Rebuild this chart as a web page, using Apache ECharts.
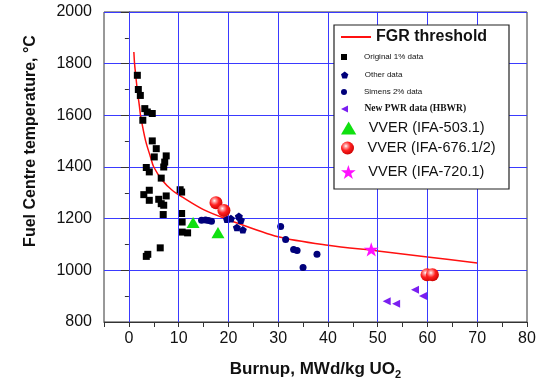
<!DOCTYPE html>
<html><head><meta charset="utf-8">
<script src="https://cdn.jsdelivr.net/npm/echarts@6/dist/echarts.min.js"></script>
<style>html,body{margin:0;padding:0;background:#fff}#c{width:542px;height:385px}</style>
</head><body><div id="c"></div>
<script>
// FGR threshold curve
const curveX = [1.0, 1.14, 1.34, 1.7, 2.14, 2.34, 3.34, 4.34, 5, 6.7, 8.7, 10.7, 15, 20, 30, 40, 50, 60, 70];
const curveY = [1845, 1800, 1761, 1697, 1632, 1600, 1503, 1439, 1400, 1349, 1310, 1284, 1235, 1196, 1130, 1097, 1075, 1052, 1028];
// Original 1% data (black squares)
const original1 = [[1.7,1755],[1.9,1700],[2.3,1677],[3.2,1626],[3.7,1613],[4.7,1607],[2.8,1581],[4.7,1501],[5.5,1471],[5.1,1439],[7.5,1443],[7.2,1419],[7.0,1400],[3.5,1398],[4.1,1381],[6.5,1357],[10.3,1312],[10.6,1303],[4.1,1310],[3.0,1293],[4.1,1271],[7.5,1288],[6.0,1275],[6.5,1258],[7.0,1252],[6.9,1216],[10.6,1220],[10.7,1187],[10.7,1148],[11.8,1145],[6.3,1087],[3.5,1054],[3.8,1062]];
// Other data (pentagons)
const otherData = [[19.7,1198],[20.5,1200],[22.1,1209],[22.5,1194],[21.7,1166],[22.9,1157]];
// Simens 2% data (circles)
const simens2 = [[14.6,1194],[15.4,1195],[16.0,1193],[16.6,1190],[30.5,1170],[31.5,1119],[33.1,1081],[33.8,1077],[37.8,1062],[35.0,1011]];
// New PWR data (HBWR)
const pwrHBWR = [[51.8,880],[53.7,871],[57.5,925],[59.1,901]];
// VVER series
const vver503 = [[12.9,1185],[17.9,1146]];
const vver676 = [[17.5,1262],[19.1,1232],[59.9,983],[61.0,983]];
const vver720 = [[48.7,1081]];
// axis ticks / grid
const xGridValues = [0, 10, 20, 30, 40, 50, 60, 70];
const yLabelValues = [800, 1000, 1200, 1400, 1600, 1800, 2000];

const SQ = 'path://M0,0 L1,0 L1,1 L0,1 Z';
const PENT = 'path://M0,-1 L0.951,-0.309 L0.588,0.809 L-0.588,0.809 L-0.951,-0.309 Z';
const LTRI = 'path://M0,0.5 L1,0 L1,1 Z';
const UTRI = 'path://M0.5,0 L1,0.85 L0,0.85 Z';
const STAR = 'path://M0,-1 L0.2245,-0.309 L0.951,-0.309 L0.363,0.118 L0.588,0.809 L0,0.382 L-0.588,0.809 L-0.363,0.118 L-0.951,-0.309 L-0.2245,-0.309 Z';
const sphere = {type:'radial', x:0.38, y:0.35, r:0.7, colorStops:[
  {offset:0, color:'#ffffff'},{offset:0.18, color:'#ffa0a0'},{offset:0.5, color:'#ff2020'},{offset:1, color:'#c80000'}]};

const SANS = 'Liberation Sans, Arial, sans-serif';

const legendDefs = [
  {name:'FGR threshold', cy:37, h:2, icon:'rect', ts:{fontSize:16, fontWeight:'bold', fontFamily:SANS}},
  {name:'Original 1% data', cy:57, h:6, icon:SQ, ts:{fontSize:8, fontFamily:SANS}},
  {name:'Other data', cy:75, h:7, icon:PENT, ts:{fontSize:8, fontFamily:SANS}},
  {name:'Simens 2% data', cy:92, h:6, icon:'circle', ts:{fontSize:8, fontFamily:SANS}},
  {name:'New PWR data (HBWR)', cy:109, h:7, icon:LTRI, ts:{fontSize:9.5, fontWeight:'bold', fontFamily:'Liberation Serif, Times New Roman, serif'}},
  {name:'VVER (IFA-503.1)', cy:128, h:13, icon:UTRI, ts:{fontSize:14.5, fontFamily:SANS}},
  {name:'VVER (IFA-676.1/2)', cy:148, h:13, icon:'circle', ts:{fontSize:14.5, fontFamily:SANS}},
  {name:'VVER (IFA-720.1)', cy:172, h:14, icon:STAR, ts:{fontSize:14.5, fontFamily:SANS}}
];

const legends = legendDefs.map(d => ({
  show:true, orient:'horizontal', left:341, top:d.cy-10, padding:0, z:20,
  itemWidth:30, itemHeight:d.h, selectedMode:false,
  data:[{name:d.name, icon:d.icon}],
  textStyle: Object.assign({color:'#111', lineHeight:20}, d.ts)
}));

const chart = echarts.init(document.getElementById('c'), null, {renderer:'canvas'});
chart.setOption({
  animation:false,
  backgroundColor:'#fff',
  grid:{left:104, right:15, top:12, bottom:63, show:true, borderColor:'#333', borderWidth:1, backgroundColor:'transparent'},
  legend: legends,
  xAxis:{
    type:'value', min:-5, max:80, interval:5,
    name:'Burnup, MWd/kg UO{sub|2}', nameLocation:'middle', nameGap:36,
    nameTextStyle:{fontSize:17, fontWeight:'bold', fontFamily:SANS, color:'#111',
      rich:{sub:{fontSize:11, fontWeight:'bold', fontFamily:SANS, color:'#111', verticalAlign:'top', padding:[11,0,0,0]}}},
    axisLine:{show:true, lineStyle:{color:'#333', width:1}},
    axisTick:{show:true, inside:false, length:5, lineStyle:{color:'#333'}},
    axisLabel:{fontSize:16, fontFamily:SANS, color:'#111', margin:9,
      formatter: v => (v >= 0 && v % 10 === 0) ? String(v) : ''},
    splitLine:{show:false}
  },
  yAxis:{
    type:'value', min:800, max:2000, interval:200,
    axisLine:{show:true, lineStyle:{color:'#333', width:1}},
    axisTick:{show:true, inside:false, length:8, lineStyle:{color:'#333'}},
    minorTick:{show:true, splitNumber:2, length:4, lineStyle:{color:'#333'}},
    axisLabel:{fontSize:16, fontFamily:SANS, color:'#111', margin:12,
      formatter: v => yLabelValues.indexOf(v) >= 0 ? String(v) : ''},
    splitLine:{show:true, lineStyle:{color:'#3a3aff', width:1}}
  },
  graphic:[
    {type:'rect', z:10, shape:{x:334, y:25, width:175, height:164},
      style:{fill:'#fff', stroke:'#222', lineWidth:1.2}},
    {type:'text', z:10, x:31, y:141, rotation:Math.PI/2,
      style:{text:'Fuel Centre temperature, °C', fontSize:16, fontWeight:'bold', fontFamily:SANS,
        fill:'#111', textAlign:'center', textVerticalAlign:'middle'}}
  ],
  series:[
    {type:'scatter', name:'_grid', data:[], z:1, silent:true,
      markLine:{silent:true, symbol:['none','none'], label:{show:false}, animation:false,
        lineStyle:{color:'#3a3aff', width:1, type:'solid'},
        data: xGridValues.map(v => ({xAxis:v}))}},
    {type:'line', name:'FGR threshold', data: curveX.map((x,i)=>[x, curveY[i]]), smooth:0.3,
      symbol:'none', showSymbol:false, z:3,
      lineStyle:{color:'#ff1010', width:1.5}, itemStyle:{color:'#ff1010'}},
    {type:'scatter', name:'Original 1% data', data:original1, symbol:SQ, symbolSize:7, symbolKeepAspect:true,
      itemStyle:{color:'#000', opacity:1}, z:4},
    {type:'scatter', name:'Other data', data:otherData, symbol:PENT, symbolSize:8, symbolKeepAspect:true,
      itemStyle:{color:'#00007a', opacity:1}, z:4},
    {type:'scatter', name:'Simens 2% data', data:simens2, symbol:'circle', symbolSize:7,
      itemStyle:{color:'#00007a', opacity:1}, z:4},
    {type:'scatter', name:'New PWR data (HBWR)', data:pwrHBWR, symbol:LTRI, symbolSize:8, symbolKeepAspect:true,
      itemStyle:{color:'#7a1ff0', opacity:1}, z:4},
    {type:'scatter', name:'VVER (IFA-503.1)', data:vver503, symbol:UTRI, symbolSize:13, symbolKeepAspect:true,
      itemStyle:{color:'#10e010', opacity:1}, z:5},
    {type:'scatter', name:'VVER (IFA-676.1/2)', data:vver676, symbol:'circle', symbolSize:13,
      itemStyle:{color:sphere, opacity:1}, z:5},
    {type:'scatter', name:'VVER (IFA-720.1)', data:vver720, symbol:STAR, symbolSize:15, symbolKeepAspect:true,
      itemStyle:{color:'#ff10ff', opacity:1}, z:5}
  ]
});
</script></body></html>
